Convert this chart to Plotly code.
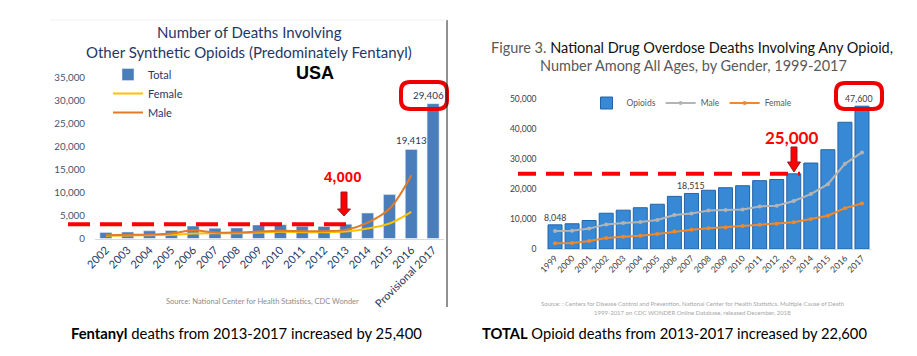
import plotly.graph_objects as go

# ---------------- data: left chart (synthetic opioids / fentanyl) ----------------
fent_years = ["2002", "2003", "2004", "2005", "2006", "2007", "2008", "2009",
              "2010", "2011", "2012", "2013", "2014", "2015", "2016", "Provisional 2017"]
fent_total = [1295, 1400, 1664, 1742, 2707, 2213, 2306, 2946,
              3007, 2666, 2628, 3105, 5544, 9580, 19413, 29406]
fent_female = [580, 650, 720, 800, 1100, 1160, 1160, 1300,
               1450, 1380, 1380, 1500, 2170, 3260, 5800, None]
fent_male = [720, 800, 870, 1090, 1800, 1300, 1300, 1500,
             1670, 1600, 1600, 1880, 3480, 6500, 13800, None]
fent_labeled = [14, 15]          # bars that carry a value label
fent_ticks = [0, 5000, 10000, 15000, 20000, 25000, 30000, 35000]

# ---------------- data: right chart (any opioid) ----------------
op_years = ["1999", "2000", "2001", "2002", "2003", "2004", "2005", "2006", "2007",
            "2008", "2009", "2010", "2011", "2012", "2013", "2014", "2015", "2016", "2017"]
op_total = [8048, 8407, 9496, 11920, 12940, 13756, 14918, 17545, 18515,
            19582, 20422, 21089, 22784, 23166, 25052, 28647, 33091, 42249, 47600]
op_male = [6000, 6100, 6800, 8200, 8700, 9000, 9700, 11300, 11800,
           12800, 13000, 13200, 14200, 14400, 16000, 18300, 21600, 28400, 32200]
op_female = [1900, 2000, 2700, 3700, 4100, 4400, 5000, 5800, 6400,
             6900, 7200, 7700, 8100, 8400, 8900, 10000, 11100, 13600, 15200]
op_labeled = [0, 8, 18]
op_ticks = [0, 10000, 20000, 30000, 40000, 50000]

W, H = 917, 356
def px(x):
    return x / W
def py(y):
    return 1 - y / H

NAVY = "#1f3864"
FONT = "Lato"

fig = go.Figure()

fig.add_trace(go.Bar(x=fent_years, y=fent_total, name="Total", marker_color="#4a7ebb",
                     width=0.55, xaxis="x", yaxis="y", legend="legend"))
fig.add_trace(go.Scatter(x=fent_years, y=fent_female, name="Female", mode="lines",
                         line=dict(color="#ffc000", width=2, shape="spline"),
                         xaxis="x", yaxis="y", legend="legend"))
fig.add_trace(go.Scatter(x=fent_years, y=fent_male, name="Male", mode="lines",
                         line=dict(color="#e07b2a", width=2, shape="spline"),
                         xaxis="x", yaxis="y", legend="legend"))

fig.add_trace(go.Bar(x=op_years, y=op_total, name="Opioids", marker_color="#3789d6",
                     marker_line=dict(color="#2463a6", width=1),
                     width=0.82, xaxis="x2", yaxis="y2", legend="legend2"))
fig.add_trace(go.Scatter(x=op_years, y=op_male, name="Male", mode="lines+markers",
                         line=dict(color="#b4b4b4", width=2), marker=dict(size=4, color="#b4b4b4"),
                         xaxis="x2", yaxis="y2", legend="legend2"))
fig.add_trace(go.Scatter(x=op_years, y=op_female, name="Female", mode="lines+markers",
                         line=dict(color="#f0882c", width=2), marker=dict(size=4, color="#f0882c"),
                         xaxis="x2", yaxis="y2", legend="legend2"))

shapes = []
shapes.append(dict(type="line", xref="paper", yref="y", x0=px(68), x1=px(351),
                   y0=fent_total[11], y1=fent_total[11],
                   line=dict(color="#ff0000", width=4, dash="22px,10px")))
shapes.append(dict(type="line", xref="paper", yref="y2", x0=px(518), x1=px(800),
                   y0=op_total[14], y1=op_total[14],
                   line=dict(color="#ff0000", width=4, dash="18px,10px")))

def block_arrow(cx, top, head_start, tip, shaft_w=6, head_w=13):
    pts = [(cx - shaft_w / 2, top), (cx + shaft_w / 2, top), (cx + shaft_w / 2, head_start),
           (cx + head_w / 2, head_start), (cx, tip), (cx - head_w / 2, head_start),
           (cx - shaft_w / 2, head_start)]
    p = "M " + " L ".join(f"{px(x):.5f},{py(y):.5f}" for x, y in pts) + " Z"
    return dict(type="path", xref="paper", yref="paper", path=p,
                fillcolor="#ff0000", line=dict(color="#9a1a2a", width=1))

shapes.append(block_arrow(344, 192, 209, 216))
shapes.append(block_arrow(794, 147, 162, 172))

def rounded_rect(x0, y0, x1, y1, r=9):
    def P(x, y):
        return f"{px(x):.5f},{py(y):.5f}"
    p = (f"M {P(x0 + r, y0)} L {P(x1 - r, y0)} Q {P(x1, y0)} {P(x1, y0 + r)} "
         f"L {P(x1, y1 - r)} Q {P(x1, y1)} {P(x1 - r, y1)} "
         f"L {P(x0 + r, y1)} Q {P(x0, y1)} {P(x0, y1 - r)} "
         f"L {P(x0, y0 + r)} Q {P(x0, y0)} {P(x0 + r, y0)} Z")
    return dict(type="path", xref="paper", yref="paper", path=p,
                line=dict(color="#ee0000", width=4))

shapes.append(rounded_rect(401, 82, 447, 109))
shapes.append(rounded_rect(836, 83, 882, 109))

shapes.append(dict(type="line", xref="paper", yref="paper", x0=px(447), x1=px(447),
                   y0=py(20), y1=py(307), line=dict(color="#222222", width=1)))
shapes.append(dict(type="line", xref="paper", yref="paper", x0=px(50), x1=px(447),
                   y0=py(20), y1=py(20), line=dict(color="#f0f0f0", width=1)))

ann = []
def text(x, y, s, size, color, family=FONT, xanchor="center"):
    ann.append(dict(x=px(x), y=py(y), xref="paper", yref="paper", text=s, showarrow=False,
                    xanchor=xanchor, yanchor="middle",
                    font=dict(size=size, color=color, family=family)))

# value labels on bars, positioned through the axes (category index)
for i in fent_labeled:
    ann.append(dict(x=i, y=fent_total[i], xref="x", yref="y",
                    text=f"{fent_total[i]:,}", showarrow=False, yanchor="middle",
                    yshift=9, xshift=-5 if i == 15 else 0,
                    font=dict(size=9.8, color=NAVY, family=FONT)))
for i in op_labeled:
    ann.append(dict(x=i, y=op_total[i], xref="x2", yref="y2",
                    text=f"{op_total[i]:,}", showarrow=False, yanchor="middle",
                    yshift=7.5, xshift=-3 if i == 18 else 0,
                    font=dict(size=8.8, color="#404040", family=FONT)))

text(249, 32, "Number of Deaths Involving", 15, NAVY)
text(249, 52, "Other Synthetic Opioids (Predominately Fentanyl)", 15, NAVY)
text(315, 73, "<b>USA</b>", 18, "#000000", "Liberation Sans")
text(343, 177, "<b>4,000</b>", 15, "#ff0000", "Liberation Sans")
text(262, 301, "Source: National Center for Health Statistics, CDC Wonder", 7.5, "#8c8c8c")
text(247, 333, "<b>Fentanyl</b> deaths from 2013-2017 increased by 25,400", 14.8, "#000000")

text(692, 47, "<span style='color:#595959'>Figure 3. </span>National Drug Overdose Deaths Involving Any Opioid,",
     14.5, "#111111")
text(693, 65, "Number Among All Ages, by Gender, 1999-2017", 14.5, "#595959")
text(791, 137, "<b>25,000</b>", 17, "#ff0000")
text(692, 303, "Source: : Centers for Disease Control and Prevention, National Center for Health Statistics. Multiple Cause of Death",
     6, "#a6a6a6")
text(692, 312, "1999-2017 on CDC WONDER Online Database, released December, 2018", 6, "#a6a6a6")
text(674, 333, "<b>TOTAL</b> Opioid deaths from 2013-2017 increased by 22,600", 14.7, "#000000")

fig.update_layout(
    width=W, height=H, margin=dict(l=0, r=0, t=0, b=0, autoexpand=False),
    paper_bgcolor="white", plot_bgcolor="white",
    font=dict(family=FONT),
    shapes=shapes, annotations=ann,
    xaxis=dict(domain=[px(95), px(444)], type="category", categoryorder="array",
               categoryarray=fent_years, range=[-0.5, len(fent_years) - 0.5], tickangle=-45,
               tickfont=dict(size=11, color=NAVY), showgrid=False, showline=True,
               linecolor="#d9d9d9", ticks="", anchor="y", automargin=False),
    yaxis=dict(domain=[py(238.5), py(78)], range=[0, 35000], tickvals=fent_ticks,
               tickformat=",", tickfont=dict(size=9.8, color="#44546a"), showgrid=False,
               zeroline=False, ticklabelstandoff=9, anchor="x", automargin=False),
    xaxis2=dict(domain=[px(546.5), px(870.5)], type="category", categoryorder="array",
                categoryarray=op_years, range=[-0.5, len(op_years) - 0.5], tickangle=-45,
                tickfont=dict(size=8.6, color="#404040"), showgrid=False, showline=True,
                linecolor="#d9d9d9", ticks="", anchor="y2", automargin=False),
    yaxis2=dict(domain=[py(249), py(99)], range=[0, 50000], tickvals=op_ticks,
                tickformat=",", tickfont=dict(size=8.5, color="#404040"), showgrid=False,
                zeroline=False, ticklabelstandoff=9, anchor="x2", automargin=False),
    legend=dict(x=px(108), y=py(60), xanchor="left", yanchor="top", orientation="v",
                font=dict(size=11, color=NAVY), bgcolor="rgba(0,0,0,0)", itemwidth=30),
    legend2=dict(x=px(692), y=py(103), xanchor="center", yanchor="middle", orientation="h",
                 font=dict(size=8.5, color="#595959"), bgcolor="rgba(0,0,0,0)", itemwidth=30),
    bargap=0.3,
)

fig.write_html("out.html", config={"displayModeBar": False},
               post_script="document.body.style.margin='0px';")
